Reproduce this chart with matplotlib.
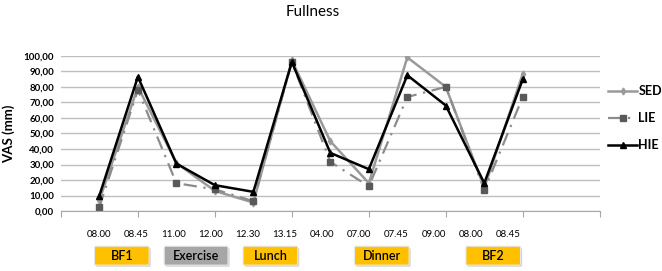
import numpy as np
import matplotlib.pyplot as plt
from matplotlib.patches import FancyBboxPatch
from matplotlib.transforms import blended_transform_factory

plt.rcParams['font.family'] = ['Lato', 'DejaVu Sans']

times = ['08.00', '08.45', '11.00', '12.00', '12.30', '13.15', '04.00',
         '07.00', '07.45', '09.00', '08.00', '08.45']
sed = [7, 80, 31, 13, 5.5, 97, 45, 18, 99, 80, 15, 88.5]
lie = [2.8, 78, 18, 14, 6.4, 96, 31.7, 16, 73.5, 80, 13.5, 73.5]
hie = [10, 86.5, 30.6, 16.7, 12.4, 96, 37.5, 27, 87.5, 68, 18, 85]

# meal / activity boxes: name, first and last time index covered, colour
events = ['BF1', 'Exercise', 'Lunch', 'Dinner', 'BF2']
ev_span = [(0, 1), (2, 3), (4, 5), (7, 8), (10, 11)]
ev_color = ['#FFC000', '#A6A6A6', '#FFC000', '#FFC000', '#FFC000']

x = np.arange(len(times))

fig = plt.figure(figsize=(6.62, 2.71), dpi=100)
ax = fig.add_axes([0.092, 0.221, 0.814, 0.573])

ax.plot(x, sed, c='#9A9A9A', lw=1.8, marker='d', ms=3.5, label='SED')
ax.plot(x, lie, c='#8C8C8C', lw=1.6, ls=(0, (6, 3, 1, 3)), marker='s', ms=5,
        mfc='#595959', mec='#595959', label='LIE')
ax.plot(x, hie, c='black', lw=1.8, marker='^', ms=4, label='HIE')

ax.set_xlim(-1, 13)
ax.set_ylim(0, 100)
ax.set_yticks(np.arange(0, 101, 10))
ax.set_yticklabels([f'{v:.2f}'.replace('.', ',') for v in range(0, 101, 10)],
                   fontsize=7, fontweight='bold')
ax.yaxis.grid(True, color='#BFBFBF', lw=1)
ax.set_axisbelow(True)
ax.tick_params(axis='y', length=0, pad=5)
ax.set_xticks(np.arange(-1, 14, 2))
ax.set_xticklabels([])
ax.tick_params(axis='x', length=4, color='#A6A6A6', direction='out')
for s in ['top', 'right', 'left']:
    ax.spines[s].set_visible(False)
ax.spines['bottom'].set_color('#A6A6A6')

ax.set_ylabel('VAS (mm)', fontsize=9.5, fontweight='bold', labelpad=6)
fig.text(0.473, 0.955, 'Fullness', ha='center', va='center', fontsize=11)

tr = blended_transform_factory(ax.transData, ax.transAxes)
for i, t in enumerate(times):
    ax.text(i * 0.965, -0.148, t, transform=tr, ha='center', va='center',
            fontsize=7, clip_on=False)

for name, (a, b), col in zip(events, ev_span, ev_color):
    c = (a + b) / 2 * 0.965 + 0.1
    w = 1.66 if name == 'Exercise' else 1.42
    shadow = FancyBboxPatch((c - w / 2 + 0.04, -0.358), w, 0.122,
                            boxstyle='round,pad=0,rounding_size=0.02',
                            transform=tr, fc='#D0D0D0', ec='none',
                            clip_on=False, zorder=1)
    box = FancyBboxPatch((c - w / 2, -0.348), w, 0.122,
                         boxstyle='round,pad=0,rounding_size=0.02',
                         transform=tr, fc=col, ec='#E8E8E8', lw=0.8,
                         clip_on=False, zorder=2)
    ax.add_patch(shadow)
    ax.add_patch(box)
    ax.text(c, -0.287, name, transform=tr, ha='center', va='center',
            fontsize=9, fontweight='semibold', clip_on=False, zorder=3)

leg = ax.legend(loc='center left', bbox_to_anchor=(0.995, 0.6), frameon=False,
                handlelength=2.3, labelspacing=1.2, handletextpad=0.1,
                prop={'weight': 'bold', 'size': 9})

fig.savefig('out.png', dpi=100)
